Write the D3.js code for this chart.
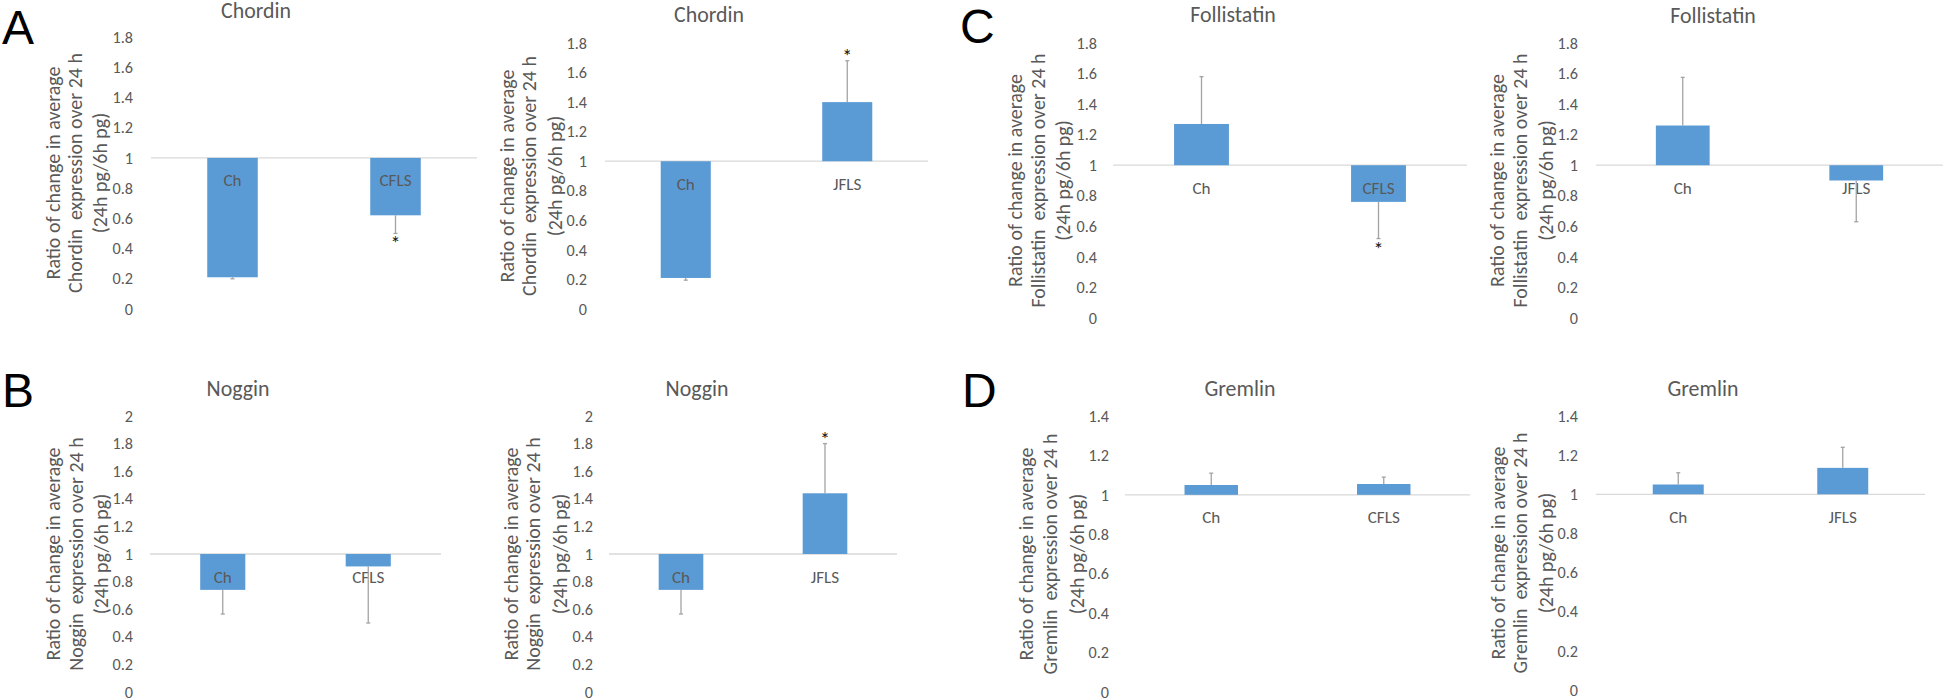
<!DOCTYPE html>
<html>
<head>
<meta charset="utf-8">
<script src="https://cdn.jsdelivr.net/npm/d3@7"></script>
<style>
  html, body { margin: 0; padding: 0; background: #fff; }
  svg { display: block; }
</style>
</head>
<body>
<svg id="chart" width="1946" height="700"></svg>
<script>
// ---------------- DATA ----------------
const panelLetters = ["A", "B", "C", "D"];
const categoriesCFLS = ["Ch", "CFLS"];
const categoriesJFLS = ["Ch", "JFLS"];

const chordinCFLS = [0.21, 0.62];
const chordinCFLSErr = [0.01, 0.12];
const chordinJFLS = [0.21, 1.40];
const chordinJFLSErr = [0.015, 0.28];

const nogginCFLS = [0.74, 0.91];
const nogginCFLSErr = [0.175, 0.41];
const nogginJFLS = [0.74, 1.44];
const nogginJFLSErr = [0.175, 0.36];

const follistatinCFLS = [1.27, 0.76];
const follistatinCFLSErr = [0.31, 0.24];
const follistatinJFLS = [1.26, 0.90];
const follistatinJFLSErr = [0.315, 0.27];

const gremlinCFLS = [1.05, 1.055];
const gremlinCFLSErr = [0.06, 0.035];
const gremlinJFLS = [1.05, 1.135];
const gremlinJFLSErr = [0.06, 0.105];

// significance stars (true = star shown next to error bar end)
const chordinCFLSStar = [false, true];
const chordinJFLSStar = [false, true];
const nogginCFLSStar = [false, false];
const nogginJFLSStar = [false, true];
const follistatinCFLSStar = [false, true];
const follistatinJFLSStar = [false, false];
const gremlinCFLSStar = [false, false];
const gremlinJFLSStar = [false, false];

const ticksChordin = [0, 0.2, 0.4, 0.6, 0.8, 1, 1.2, 1.4, 1.6, 1.8];
const ticksNoggin = [0, 0.2, 0.4, 0.6, 0.8, 1, 1.2, 1.4, 1.6, 1.8, 2];
const ticksFollistatin = [0, 0.2, 0.4, 0.6, 0.8, 1, 1.2, 1.4, 1.6, 1.8];
const ticksGremlin = [0, 0.2, 0.4, 0.6, 0.8, 1, 1.2, 1.4];
const baselineValue = 1;

const yTitleLine1 = "Ratio of change in average";
const yTitleLine2Suffix = "  expression over 24 h";
const yTitleLine3 = "(24h pg/6h pg)";

// ---------------- LAYOUT ----------------
const layouts = [
  { cats: categoriesCFLS, vals: chordinCFLS, errs: chordinCFLSErr, stars: chordinCFLSStar, ticks: ticksChordin,
    L: 151, R: 477, yTop: 37, yBot: 309, tickR: 133, titleX: 256, titleY: 18, ytx: [53, 75, 100], title: "Chordin" },
  { cats: categoriesJFLS, vals: chordinJFLS, errs: chordinJFLSErr, stars: chordinJFLSStar, ticks: ticksChordin,
    L: 605, R: 928, yTop: 43, yBot: 309, tickR: 587, titleX: 709, titleY: 22, ytx: [507, 529, 555], title: "Chordin" },
  { cats: categoriesCFLS, vals: nogginCFLS, errs: nogginCFLSErr, stars: nogginCFLSStar, ticks: ticksNoggin,
    L: 150, R: 441, yTop: 416, yBot: 692, tickR: 133, titleX: 238, titleY: 396, ytx: [53, 76, 101], title: "Noggin" },
  { cats: categoriesJFLS, vals: nogginJFLS, errs: nogginJFLSErr, stars: nogginJFLSStar, ticks: ticksNoggin,
    L: 609, R: 897, yTop: 416, yBot: 692, tickR: 593, titleX: 697, titleY: 396, ytx: [511, 533, 560], title: "Noggin" },
  { cats: categoriesCFLS, vals: follistatinCFLS, errs: follistatinCFLSErr, stars: follistatinCFLSStar, ticks: ticksFollistatin,
    L: 1113, R: 1467, yTop: 43, yBot: 318, tickR: 1097, titleX: 1233, titleY: 22, ytx: [1015, 1038, 1063], title: "Follistatin" },
  { cats: categoriesJFLS, vals: follistatinJFLS, errs: follistatinJFLSErr, stars: follistatinJFLSStar, ticks: ticksFollistatin,
    L: 1596, R: 1943, yTop: 43, yBot: 318, tickR: 1578, titleX: 1713, titleY: 23, ytx: [1497, 1520, 1546], title: "Follistatin" },
  { cats: categoriesCFLS, vals: gremlinCFLS, errs: gremlinCFLSErr, stars: gremlinCFLSStar, ticks: ticksGremlin,
    L: 1125, R: 1470, yTop: 416, yBot: 692, tickR: 1109, titleX: 1240, titleY: 396, ytx: [1026, 1050, 1077], title: "Gremlin" },
  { cats: categoriesJFLS, vals: gremlinJFLS, errs: gremlinJFLSErr, stars: gremlinJFLSStar, ticks: ticksGremlin,
    L: 1596, R: 1925, yTop: 416, yBot: 690, tickR: 1578, titleX: 1703, titleY: 396, ytx: [1498, 1520, 1546], title: "Gremlin" }
];

const letterPos = [
  { x: 2, y: 44 },     // A
  { x: 2, y: 407 },    // B
  { x: 960, y: 43 },   // C
  { x: 962, y: 407 }   // D
];

const FONT = "Carlito, Lato, sans-serif";
const TEXT = "#595959";
const BAR = "#5b9bd5";
const ERR = "#a3a3a3";
const AXIS = "#d9d9d9";

const svg = d3.select("#chart");

// font size fitting so that a sample string matches a measured width
function fitSize(sample, targetWidth, base) {
  const t = svg.append("text").attr("font-family", FONT).attr("font-size", base)
    .style("white-space", "pre").text(sample);
  const w = t.node().getComputedTextLength();
  t.remove();
  return w > 0 ? base * targetWidth / w : base;
}
const titleSize = fitSize("Chordin", 70, 20);
const yTitleSize = fitSize(yTitleLine1, 213, 20);
const tickSize = fitSize("1.8", 20.5, 16);
const catSize = fitSize("CFLS", 32, 16);

// panel letters
svg.selectAll("text.letter")
  .data(panelLetters)
  .join("text")
  .attr("class", "letter")
  .attr("x", (d, i) => letterPos[i].x)
  .attr("y", (d, i) => letterPos[i].y)
  .attr("font-family", "'Liberation Sans', Arial, sans-serif")
  .attr("font-size", 48)
  .attr("fill", "#000")
  .text(d => d);

layouts.forEach(p => {
  const g = svg.append("g");
  const maxT = p.ticks[p.ticks.length - 1];
  const y = d3.scaleLinear().domain([0, maxT]).range([p.yBot, p.yTop]);
  const x = d3.scaleBand().domain(p.cats).range([p.L, p.R]).paddingInner(0.69).paddingOuter(0.345);

  // title
  g.append("text")
    .attr("x", p.titleX).attr("y", p.titleY)
    .attr("text-anchor", "middle")
    .attr("font-family", FONT).attr("font-size", titleSize)
    .attr("fill", TEXT)
    .text(p.title);

  // y axis (labels only, no line)
  const yAxis = d3.axisLeft(y).tickValues(p.ticks).tickSize(0).tickPadding(0)
    .tickFormat(d => d3.format("~g")(d));
  const ax = g.append("g").attr("transform", `translate(${p.tickR},0)`).call(yAxis);
  ax.select(".domain").remove();
  ax.selectAll("text")
    .attr("font-family", FONT).attr("font-size", tickSize).attr("fill", TEXT);

  // y axis title (3 lines)
  const yTitleLines = [yTitleLine1, p.title + yTitleLine2Suffix, yTitleLine3];
  const cy = (p.yTop + p.yBot) / 2;
  yTitleLines.forEach((t, i) => {
    g.append("text")
      .attr("transform", `translate(${p.ytx[i]},${cy}) rotate(-90)`)
      .attr("text-anchor", "middle")
      .attr("dominant-baseline", "central")
      .attr("font-family", FONT).attr("font-size", yTitleSize)
      .attr("fill", TEXT)
      .style("white-space", "pre")
      .text(t);
  });

  // horizontal axis at baseline value 1
  g.append("line")
    .attr("x1", p.L).attr("x2", p.R)
    .attr("y1", y(baselineValue)).attr("y2", y(baselineValue))
    .attr("stroke", AXIS).attr("stroke-width", 1.3);

  const data = p.cats.map((c, i) => ({ c, v: p.vals[i], e: p.errs[i], s: p.stars[i] }));

  // bars
  g.selectAll("rect.bar").data(data).join("rect")
    .attr("class", "bar")
    .attr("x", d => x(d.c))
    .attr("width", x.bandwidth())
    .attr("y", d => Math.min(y(d.v), y(baselineValue)))
    .attr("height", d => Math.abs(y(d.v) - y(baselineValue)))
    .attr("fill", BAR);

  // category labels
  g.selectAll("text.cat").data(data).join("text")
    .attr("class", "cat")
    .attr("x", d => x(d.c) + x.bandwidth() / 2)
    .attr("y", y(baselineValue) + 23)
    .attr("text-anchor", "middle")
    .attr("dominant-baseline", "central")
    .attr("font-family", FONT).attr("font-size", catSize)
    .attr("fill", TEXT)
    .text(d => d.c);

  // error bars (one-sided, away from baseline)
  const errEnd = d => d.v >= baselineValue ? d.v + d.e : d.v - d.e;
  g.selectAll("line.err").data(data).join("line")
    .attr("class", "err")
    .attr("x1", d => x(d.c) + x.bandwidth() / 2)
    .attr("x2", d => x(d.c) + x.bandwidth() / 2)
    .attr("y1", d => y(d.v))
    .attr("y2", d => y(errEnd(d)))
    .attr("stroke", ERR).attr("stroke-width", 1.3);
  g.selectAll("line.cap").data(data).join("line")
    .attr("class", "cap")
    .attr("x1", d => x(d.c) + x.bandwidth() / 2 - 2)
    .attr("x2", d => x(d.c) + x.bandwidth() / 2 + 2)
    .attr("y1", d => y(errEnd(d)))
    .attr("y2", d => y(errEnd(d)))
    .attr("stroke", ERR).attr("stroke-width", 1.3);

  // stars
  g.selectAll("text.star").data(data.filter(d => d.s)).join("text")
    .attr("class", "star")
    .attr("x", d => x(d.c) + x.bandwidth() / 2)
    .attr("y", d => d.v >= baselineValue ? y(errEnd(d)) + 2 : y(errEnd(d)) + 17)
    .attr("text-anchor", "middle")
    .attr("font-family", FONT).attr("font-size", 20)
    .attr("fill", "#111")
    .text("*");
});
</script>
</body>
</html>
